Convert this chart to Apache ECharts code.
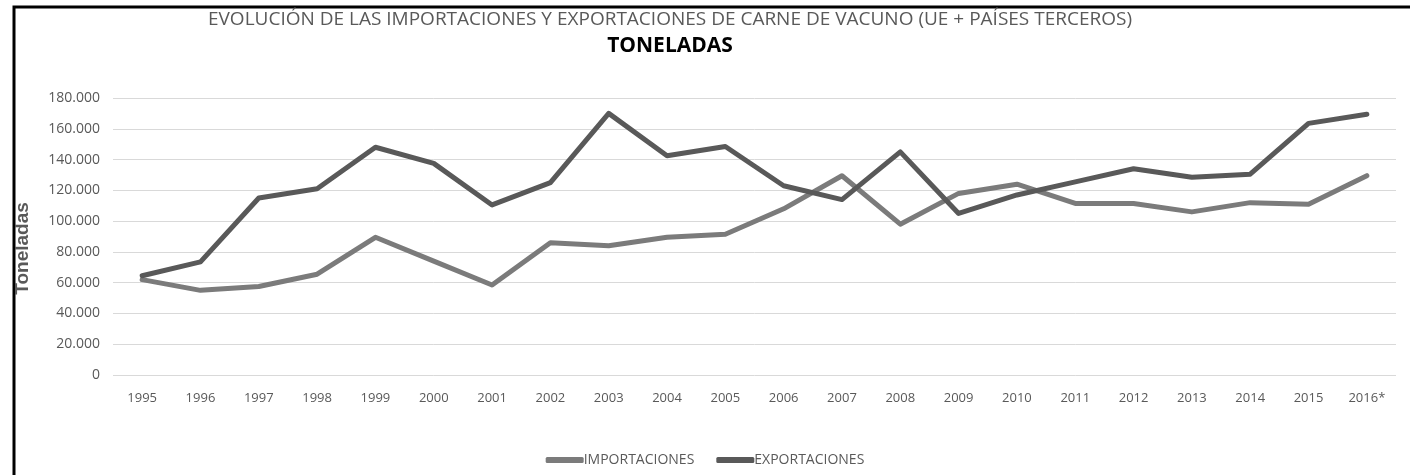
<!DOCTYPE html>
<html lang="es">
<head>
    <meta charset="UTF-8">
    <title>Importaciones y exportaciones de carne de vacuno</title>
    <style>
        html, body { margin: 0; padding: 0; background: #fff; }
        #main { width: 1410px; height: 475px; }
    </style>
</head>
<body>
    <div id="main"></div>
    <script src="https://cdn.jsdelivr.net/npm/echarts@6/dist/echarts.min.js"></script>
    <script>
        // datos (toneladas)
        var years = ['1995', '1996', '1997', '1998', '1999', '2000', '2001', '2002', '2003', '2004', '2005',
            '2006', '2007', '2008', '2009', '2010', '2011', '2012', '2013', '2014', '2015', '2016*'];
        var importaciones = [62000, 55000, 57500, 65500, 89500, 74000, 58500, 86000, 84000, 89500, 91500,
            108000, 129500, 98000, 118000, 124000, 111500, 111500, 106000, 112000, 111000, 129500];
        var exportaciones = [64500, 73500, 115000, 121000, 148000, 137500, 110500, 125000, 170000, 142500, 148500,
            123000, 114000, 145000, 105000, 117000, 125500, 134000, 128500, 130500, 163500, 169500];

        var myChart = echarts.init(document.getElementById('main'));
        var font = 'Open Sans';

        var option = {
            backgroundColor: '#fff',
            animation: false,
            title: [{
                text: 'EVOLUCIÓN DE LAS IMPORTACIONES Y EXPORTACIONES DE CARNE DE VACUNO (UE + PAÍSES TERCEROS)',
                left: 665, top: 5, textAlign: 'center',
                textStyle: { fontFamily: font, fontWeight: 'normal', fontSize: 19, color: '#595959' }
            }, {
                text: 'TONELADAS',
                left: 665, top: 31, textAlign: 'center',
                textStyle: { fontFamily: font, fontWeight: 'bold', fontSize: 21, color: '#000' }
            }],
            legend: {
                bottom: 3,
                left: 'center',
                itemWidth: 38,
                itemHeight: 6,
                itemGap: 22,
                icon: 'roundRect',
                textStyle: { fontFamily: font, fontSize: 14, color: '#595959', padding: [0, 0, 0, -5] },
                data: ['IMPORTACIONES', 'EXPORTACIONES']
            },
            grid: { left: 113, right: 14, top: 98, bottom: 100 },
            xAxis: {
                type: 'category',
                data: years,
                axisLine: { show: false },
                axisTick: { show: false },
                axisLabel: { color: '#595959', fontFamily: font, fontSize: 13, margin: 17 }
            },
            yAxis: {
                type: 'value',
                min: 0, max: 180000, interval: 20000,
                name: 'Toneladas',
                nameLocation: 'middle',
                nameGap: 81,
                nameTextStyle: { fontFamily: 'Liberation Sans', fontWeight: 'bold', fontSize: 19, color: '#595959', padding: [0, 24, 0, 0] },
                axisLabel: {
                    color: '#595959', fontFamily: font, fontSize: 14, margin: 13,
                    formatter: function (v) { return v === 0 ? '0' : (v / 1000) + '.000'; }
                },
                splitLine: { lineStyle: { color: '#d9d9d9', width: 1 } }
            },
            series: [{
                name: 'IMPORTACIONES',
                type: 'line',
                data: importaciones,
                symbol: 'none',
                itemStyle: { color: '#7b7b7b' },
                lineStyle: { color: '#7b7b7b', width: 5, cap: 'round', join: 'round' }
            }, {
                name: 'EXPORTACIONES',
                type: 'line',
                data: exportaciones,
                symbol: 'none',
                itemStyle: { color: '#595959' },
                lineStyle: { color: '#595959', width: 5, cap: 'round', join: 'round' }
            }],
            graphic: [{
                type: 'polyline',
                shape: { points: [[14, 475], [14, 7], [1410, 7]] },
                style: { stroke: '#000', lineWidth: 3, fill: null }
            }]
        };

        myChart.setOption(option);
    </script>
</body>
</html>
